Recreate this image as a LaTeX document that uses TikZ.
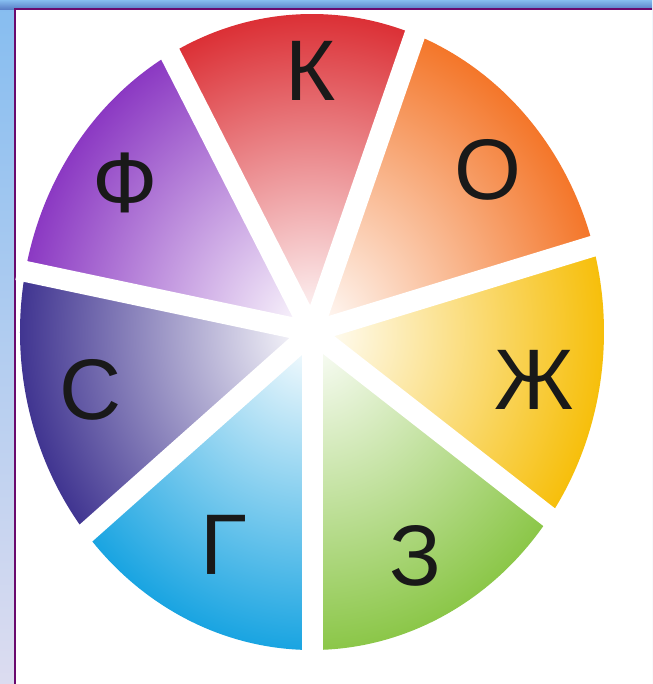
\documentclass[tikz,border=0pt]{standalone}
\usepackage{fontspec}
\setmainfont{Liberation Sans}
\usepackage{xcolor}

\definecolor{kred}{HTML}{DA272D}
\definecolor{oorange}{HTML}{F37020}
\definecolor{zhyellow}{HTML}{F6BC00}
\definecolor{zgreen}{HTML}{86C440}
\definecolor{gblue}{HTML}{0FA0E0}
\definecolor{sindigo}{HTML}{382C8C}
\definecolor{fviolet}{HTML}{8630C0}
\definecolor{frametop}{HTML}{86BDF0}
\definecolor{framebot}{HTML}{DCDCF0}
\definecolor{frameline}{HTML}{6A0A6E}

\begin{document}
\begin{tikzpicture}[x=1pt, y=1pt,
    gap/.style={draw=white, line width=21pt},
    letter/.style={font=\fontsize{86}{86}\selectfont, inner sep=0pt, text=black!90}]

  \useasboundingbox (-312,-352) rectangle (340,332);

  % window frame
  \shade[top color=frametop, bottom color=framebot] (-312,-352) rectangle (340,332);
  \shade[top color=frametop, bottom color=frametop!80!blue!80!black] (-312,322) rectangle (340,332);
  \fill[white] (-296,-352) rectangle (340,322);
  \draw[frameline, line width=2.5pt] (-297,-352) -- (-297,323) -- (340,323);

  \coordinate (c) at (0,0);

  % sectors
  \foreach \a/\b/\col in {-35.7/15.7/zhyellow, 15.7/69.4/oorange, 69.4/119/kred,
                          119/169/fviolet, 169/219.3/sindigo, 219.3/270/gblue,
                          270/324.3/zgreen}{
    \begin{scope}
      \clip (c) -- (\a:292pt and 318pt)
        arc[start angle=\a, end angle=\b, x radius=292pt, y radius=318pt] -- cycle;
      \shade[inner color=white, outer color=\col] (c) ellipse (305pt and 332pt);
    \end{scope}
  }

  % white gaps between the sectors
  \foreach \t in {15.7, 69.4, 119, 169, 219.3, 270, 324.3}
    \draw[gap] (c) -- (\t:300pt and 326pt);

  % letters
  \foreach \x/\y/\lbl/\name in {-1/261/К/k, 176/162/О/o, 222/-48/Ж/zh,
                                103/-224/З/z, -88/-213/Г/g, -221/-58/С/s,
                                -187/149/Ф/f}
    \node[letter] (\name) at (\x,\y) {\lbl};
\end{tikzpicture}
\end{document}
